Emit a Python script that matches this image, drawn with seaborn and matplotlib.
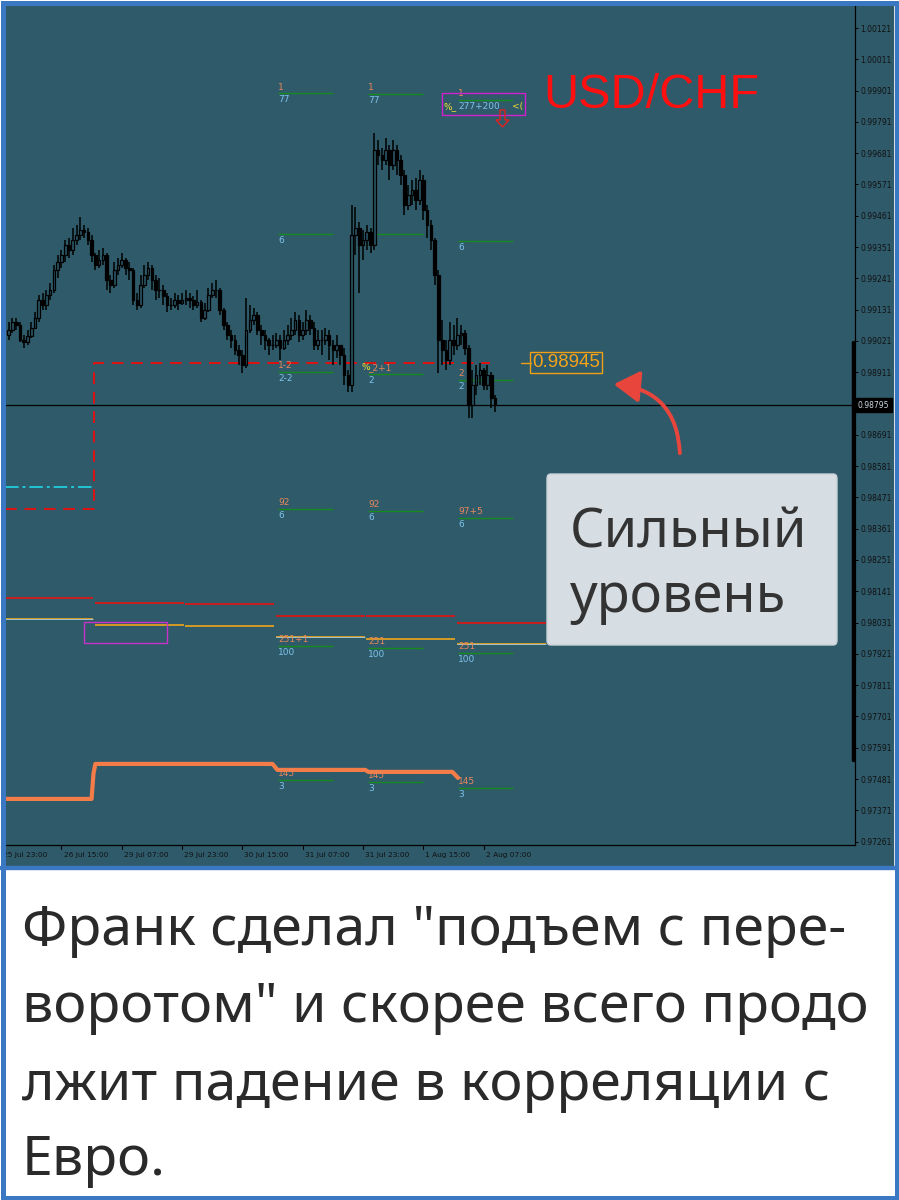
import matplotlib
matplotlib.use("Agg")
import matplotlib.pyplot as plt
import matplotlib.transforms as mtransforms
from matplotlib.patches import Rectangle, FancyBboxPatch, FancyArrowPatch, FancyArrow
import numpy as np
import seaborn as sns

# ---------------- data (prices in points, 1 pt = 0.00001) ----------------
first_bar = 2
first_open_pts = 99042
closes_pts = [
    99059, 99088, 99077, 99024, 99017, 99038, 99066, 99102, 99165, 99147,
    99182, 99200, 99270, 99298, 99323, 99358, 99341, 99376, 99393, 99411,
    99404, 99376, 99323, 99288, 99306, 99323, 99235, 99218, 99270, 99288,
    99306, 99277, 99270, 99165, 99147, 99218, 99253, 99277, 99235, 99200,
    99200, 99179, 99147, 99147, 99165, 99154, 99165, 99172, 99165, 99147,
    99158, 99102, 99130, 99182, 99200, 99200, 99130, 99077, 99042, 99024,
    98989, 98972, 98936, 99059, 99095, 99112, 99059, 99042, 99024, 99007,
    99007, 99024, 98996, 99024, 99042, 99059, 99095, 99042, 99059, 99095,
    99066, 99007, 99024, 99024, 99042, 99007, 98989, 99007, 98972, 98901,
    98866, 99393, 99418, 99358, 99376, 99404, 99358, 99692, 99675, 99657,
    99692, 99639, 99692, 99657, 99604, 99499, 99534, 99552, 99516, 99587,
    99481, 99429, 99376, 99253, 99024, 98989, 98954, 99024, 99007, 99042,
    99049, 98996, 98796, 98866, 98901, 98919, 98866, 98901, 98820, 98795,
]
highs_pts = [
    99088, 99102, 99102, 99088, 99042, 99059, 99088, 99123, 99182, 99189,
    99200, 99225, 99288, 99323, 99341, 99376, 99383, 99418, 99429, 99457,
    99429, 99418, 99393, 99330, 99341, 99348, 99330, 99253, 99298, 99313,
    99330, 99313, 99298, 99277, 99189, 99253, 99288, 99298, 99288, 99253,
    99242, 99218, 99189, 99172, 99189, 99182, 99189, 99200, 99189, 99179,
    99200, 99165, 99154, 99207, 99225, 99235, 99207, 99137, 99088, 99059,
    99042, 99007, 98989, 99172, 99147, 99137, 99123, 99077, 99059, 99031,
    99042, 99049, 99042, 99059, 99077, 99102, 99123, 99112, 99088, 99130,
    99112, 99088, 99059, 99059, 99066, 99059, 99024, 99042, 99007, 98996,
    98919, 99499, 99492, 99439, 99411, 99429, 99418, 99752, 99727, 99699,
    99734, 99710, 99727, 99710, 99675, 99622, 99569, 99587, 99594, 99622,
    99604, 99499, 99446, 99383, 99270, 99095, 99024, 99088, 99077, 99102,
    99077, 99059, 99007, 98919, 98936, 98943, 98926, 98936, 98912, 98831,
]
lows_pts = [
    99024, 99049, 99059, 99017, 98996, 99007, 99031, 99066, 99088, 99130,
    99130, 99165, 99189, 99242, 99277, 99298, 99313, 99323, 99358, 99376,
    99383, 99358, 99298, 99270, 99277, 99288, 99200, 99189, 99207, 99253,
    99277, 99253, 99235, 99147, 99130, 99137, 99207, 99235, 99200, 99165,
    99172, 99147, 99123, 99130, 99137, 99130, 99147, 99147, 99137, 99130,
    99137, 99088, 99095, 99123, 99172, 99172, 99112, 99059, 99024, 98996,
    98972, 98936, 98908, 98926, 99049, 99077, 99042, 99007, 98989, 98972,
    98989, 98996, 98954, 98989, 99007, 99024, 99042, 99017, 99024, 99042,
    99042, 98989, 98989, 98972, 99007, 98954, 98936, 98961, 98936, 98866,
    98842, 98842, 99323, 99189, 99306, 99341, 99330, 99341, 99639, 99622,
    99639, 99587, 99622, 99604, 99569, 99464, 99481, 99499, 99481, 99499,
    99446, 99383, 99341, 99218, 98908, 98936, 98919, 98936, 98972, 98989,
    99007, 98972, 98750, 98750, 98831, 98866, 98849, 98849, 98785, 98771,
]

time_labels = ["25 Jul 23:00", "26 Jul 15:00", "29 Jul 07:00", "29 Jul 23:00",
               "30 Jul 15:00", "31 Jul 07:00", "31 Jul 23:00", "1 Aug 15:00",
               "2 Aug 07:00"]
time_label_bars = [0, 16, 32, 48, 64, 80, 96, 112, 128]

price_ticks = ["1.00121", "1.00011", "0.99901", "0.99791", "0.99681", "0.99571",
               "0.99461", "0.99351", "0.99241", "0.99131", "0.99021", "0.98911",
               "0.98801", "0.98691", "0.98581", "0.98471", "0.98361", "0.98251",
               "0.98141", "0.98031", "0.97921", "0.97811", "0.97701", "0.97591",
               "0.97481", "0.97371", "0.97261"]
hidden_tick = "0.98801"  # covered by the bid label in the terminal
bid_price = 0.98795
bid_label = "0.98795"
level_price = 0.98945
level_label = "0.98945"

day_starts = [1, 24.8, 48.8, 72.8, 96.8, 120.8]
day_ends = [24.5, 48.5, 72.5, 96.5, 120.5, 144.5]
red_levels = [0.98119, 0.98100, 0.98096, 0.98055, 0.98053, 0.98029]
gold_levels = [0.98043, 0.98023, 0.98019, 0.97979, 0.97973, 0.97955]

ma_bars = [1, 24, 24.5, 25, 72, 73.3, 96.6, 97.4, 119.7, 121.2]
ma_vals = [0.97411, 0.97411, 0.97500, 0.97534, 0.97534, 0.97513, 0.97513,
           0.97506, 0.97506, 0.97485]

stop_bars = [1, 24.6, 24.6, 129.7]
stop_vals = [0.98430, 0.98430, 0.98945, 0.98945]
cyan_level = 0.98508

col_starts = [73.5, 97.4, 121.3]
col_levels = [
    [0.99892, 0.99397, 0.98912, 0.98430, 0.97949, 0.97478],
    [0.99889, 0.99397, 0.98905, 0.98423, 0.97942, 0.97471],
    [0.99868, 0.99372, 0.98884, 0.98399, 0.97924, 0.97450],
]
top_labels = [
    ["1", "", "1-2", "92", "251+1", "145"],
    ["1", "", "_2+1", "92", "251", "145"],
    ["1", "", "2", "97+5", "251", "145"],
]
bottom_labels = [
    ["77", "6", "2-2", "6", "100", "3"],
    ["77", "6", "2", "6", "100", "3"],
    ["277+200", "6", "2", "6", "100", "3"],
]

title = "USD/CHF"
box_lines = ["Сильный", "уровень"]
caption_lines = ['Франк сделал "подъем с пере-',
                 'воротом" и скорее всего продо',
                 'лжит падение в корреляции с',
                 'Евро.']

# ---------------- style ----------------
TEAL = "#2f5a6a"
BULL = "#2a5262"
ORANGE_T = "#e8875a"
BLUE_T = "#7ec3ec"
GREEN = "#178a1e"
YELLOW = "#f2e030"
BORDER = "#3a78c4"

W, H = 899, 1200
sns.set_theme(style="dark", rc={"axes.facecolor": TEAL, "figure.facecolor": "white"})
plt.rcParams["font.family"] = ["DejaVu Sans"]

fig = plt.figure(figsize=(W / 100, H / 100), dpi=100)


def fx(px):
    return px / W


def fy(py):
    return 1 - py / H


PT = 0.72  # points per pixel

# chart background
fig.add_artist(Rectangle((fx(5), fy(866)), fx(888), 861 / H, color=TEAL, zorder=-5))

ax = fig.add_axes([fx(5), fy(845), fx(850), 840 / H])
ax.set_facecolor(TEAL)
ax.set_xlim(1.03, 226.5)
ax.set_ylim(0.97249, 1.00202)
ax.grid(False)
for s in ["top", "left"]:
    ax.spines[s].set_visible(False)
for s in ["right", "bottom"]:
    ax.spines[s].set_visible(True)
    ax.spines[s].set_color("black")
    ax.spines[s].set_linewidth(0.9)

# price axis
ax.yaxis.tick_right()
ax.set_yticks([float(t) for t in price_ticks])
ax.set_yticklabels(["" if t == hidden_tick else t for t in price_ticks])
ax.tick_params(axis="y", direction="out", length=2.5, width=0.7, color="black",
               labelsize=5.5, pad=1.5, labelcolor="#111111", right=True, left=False)
ax.set_xticks([])

# time axis labels (manual, first one runs under the frame)
xb = mtransforms.blended_transform_factory(ax.transData, ax.transAxes)
for b, lab in zip(time_label_bars, time_labels):
    ax.plot([b, b], [0, -3.5 / 840], transform=xb, color="black", lw=0.8, clip_on=False)
    ax.annotate(lab, xy=(b, 0), xycoords=xb, xytext=(1.5, -7.5), textcoords="offset points",
                ha="left", va="center", fontsize=5.3, color="#111111", annotation_clip=False)

# daily levels
for s, e, r, g in zip(day_starts, day_ends, red_levels, gold_levels):
    ax.hlines(r, s, e, color="#d81818", lw=1.3, zorder=2)
    ax.hlines(g, s, e, color="#e0a020", lw=1.3, zorder=2)
for k in [0, 3, 5]:
    ax.hlines(gold_levels[k] + 0.000015, day_starts[k], day_ends[k], color="#9cc8e4", lw=0.6, zorder=2)

# orange moving line
sns.lineplot(x=ma_bars, y=ma_vals, ax=ax, color="#f47c48", lw=3, sort=False, zorder=2)

# stop step line and cyan level
ax.plot(stop_bars, stop_vals, color="#e01010", lw=1.4, dashes=(6, 4), zorder=2)
ax.hlines(cyan_level, 1, 24.5, color="#22c4d4", lw=1.4, linestyles=(0, (7, 2, 1.5, 2)), zorder=2)

# bid line
ax.axhline(bid_price, color="black", lw=0.9, zorder=2)

# thick bar on the price scale
ax.plot([226.0, 226.0], [0.97548, 0.99017], color="black", lw=2.5, clip_on=False, zorder=5)

# magenta boxes
ax.add_patch(Rectangle((22.0, 0.97959), 22.0, 0.00074, fill=False, ec="#c832c8", lw=1, zorder=2))
ax.add_patch(Rectangle((116.9, 0.99815), 22.1, 0.00077, fill=False, ec="#d020d0", lw=1, zorder=6))

# level markers
LFS = 6.5
for c, start in enumerate(col_starts):
    for r, lvl in enumerate(col_levels[c]):
        ax.hlines(lvl, start, start + 14.5, color=GREEN, lw=1, zorder=2)
        if top_labels[c][r]:
            ax.annotate(top_labels[c][r], xy=(start, lvl), xytext=(0, 1.2),
                        textcoords="offset points", ha="left", va="bottom",
                        fontsize=LFS, color=ORANGE_T, zorder=2)
        if bottom_labels[c][r]:
            ax.annotate(bottom_labels[c][r], xy=(start, lvl), xytext=(0, -1.5),
                        textcoords="offset points", ha="left", va="top",
                        fontsize=LFS, color=BLUE_T, zorder=2)

# yellow prefixes and marks
ax.annotate("%_", xy=(col_starts[2], col_levels[2][0]), xytext=(-15 * PT, -1.5),
            textcoords="offset points", ha="left", va="top", fontsize=LFS, color=YELLOW, zorder=6)
ax.annotate("%", xy=(col_starts[1], col_levels[1][2]), xytext=(-6.5 * PT, 1.2),
            textcoords="offset points", ha="left", va="bottom", fontsize=LFS, color=YELLOW, zorder=2)
ax.annotate("<(", xy=(135.6, col_levels[2][0]), xytext=(0, -1.5),
            textcoords="offset points", ha="left", va="top", fontsize=LFS, color=YELLOW, zorder=6)
# hollow sell arrow
ax.add_patch(FancyArrow(133.0, 0.99833, 0, -0.00060, width=1.3, head_width=3.4,
                        head_length=0.00025, length_includes_head=True, fill=False,
                        ec="#e02020", lw=1, zorder=6))

# candles
n = len(closes_pts)
bars = np.arange(first_bar, first_bar + n)
closes = np.array(closes_pts) / 1e5
opens = np.concatenate([[first_open_pts / 1e5], closes[:-1]])
highs = np.array(highs_pts) / 1e5
lows = np.array(lows_pts) / 1e5
bull = closes >= opens
ax.vlines(bars, lows, highs, color="black", lw=1.1, zorder=3)
ax.bar(bars[bull], (closes - opens)[bull], bottom=opens[bull], width=0.7,
       color=BULL, edgecolor="black", lw=0.9, zorder=4)
ax.bar(bars[~bull], (opens - closes)[~bull], bottom=closes[~bull], width=0.7,
       color="black", edgecolor="black", lw=0.9, zorder=4)

# current price label on the scale
yb = mtransforms.blended_transform_factory(ax.transAxes, ax.transData)
ax.text(1.0035, bid_price, bid_label, transform=yb, ha="left", va="center", fontsize=5.5,
        color="#d0d8e0", zorder=7, clip_on=False,
        bbox=dict(boxstyle="square,pad=0.3", fc="black", ec="black"))

# strong level label
ax.plot([137.9, 140.6], [level_price, level_price], color="#f0a010", lw=1, zorder=6)
ax.text(140.9, level_price, level_label, ha="left", va="center", fontsize=13.5,
        family=["Liberation Sans", "DejaVu Sans"], color="#f4a418", zorder=6,
        bbox=dict(boxstyle="square,pad=0.12", fc="none", ec="#f0a010", lw=1))

# title
fig.text(fx(543), fy(108), title, fontsize=35, color="#ff1010",
         family=["Liberation Sans", "DejaVu Sans"], va="baseline", ha="left", zorder=8)

# arrow
arrow = FancyArrowPatch((fx(680), fy(456)), (fx(611), fy(384)), transform=fig.transFigure,
                        arrowstyle="-|>,head_length=0.65,head_width=0.4", mutation_scale=24,
                        lw=2.8, color="#e8453c", connectionstyle="arc3,rad=0.45", zorder=8)
fig.add_artist(arrow)

# note box
note = FancyBboxPatch((fx(547), fy(645)), fx(290), 171 / H,
                      boxstyle="round,pad=0,rounding_size=0.004",
                      transform=fig.transFigure, fc="#d6dee3", ec="#c8d0d6", lw=1, zorder=8)
fig.add_artist(note)
fig.text(fx(570), fy(548), box_lines[0], fontsize=39, color="#333333",
         family=["Noto Sans", "DejaVu Sans"], va="baseline", ha="left", zorder=9)
fig.text(fx(570), fy(612), box_lines[1], fontsize=39, color="#333333",
         family=["Noto Sans", "DejaVu Sans"], va="baseline", ha="left", zorder=9)

# caption
for line, base in zip(caption_lines, [945, 1022, 1100, 1175]):
    fig.text(fx(22), fy(base), line, fontsize=40, color="#2a2a2a",
             family=["Noto Sans", "DejaVu Sans"], va="baseline", ha="left", zorder=9)

# frame
fig.add_artist(Rectangle((fx(0), fy(869)), 1, 3.5 / H, color=BORDER, zorder=10))
fig.add_artist(Rectangle((fx(2.5), fy(1197.5)), fx(894), 1195 / H, fill=False,
                         ec=BORDER, lw=5 * PT, zorder=10))

fig.savefig("out.png", dpi=100)
